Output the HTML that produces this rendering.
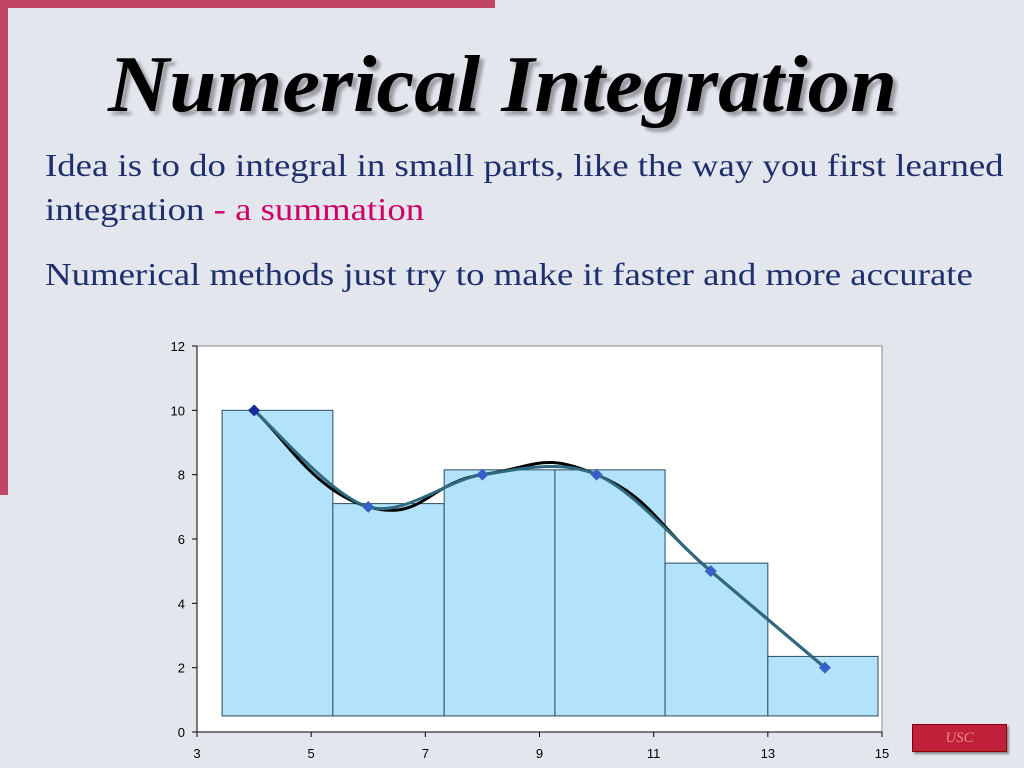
<!DOCTYPE html>
<html><head><meta charset="utf-8"><style>
body{margin:0;width:1024px;height:768px;overflow:hidden;background:#e3e7ed;font-family:"Liberation Serif",serif;position:relative}
.t{position:absolute;color:#1f2f6e;font-size:32px;white-space:nowrap;transform:scaleX(1.15);transform-origin:0 0}
</style></head><body>
<div style="position:absolute;left:0;top:0;width:495px;height:8px;background:#c04565"></div>
<div style="position:absolute;left:0;top:0;width:8px;height:495px;background:#c04565"></div>
<div style="position:absolute;left:108px;top:40px;font-size:80px;font-weight:bold;font-style:italic;color:#000;text-shadow:4px 4px 3px #9a9aa0;white-space:nowrap;transform:scaleX(1.06);transform-origin:0 0">Numerical Integration</div>
<div class="t" style="left:45px;top:147px">Idea is to do integral in small parts, like the way you first learned</div>
<div class="t" style="left:45px;top:191px">integration <span style="color:#cc0066">- a summation</span></div>
<div class="t" style="left:45px;top:256px">Numerical methods just try to make it faster and more accurate</div>
<div style="position:absolute;left:912px;top:724px;width:93px;height:26px;background:#c0203a;border:1px solid #800;box-shadow:2px 2px 2px #888;color:#e88;font-style:italic;font-size:15px;text-align:center;line-height:26px">USC</div>
<svg id="chart" width="1024" height="768" style="position:absolute;left:0;top:0"></svg>
<script>
const xTicks=[3,5,7,9,11,13,15];
const yTicks=[0,2,4,6,8,10,12];
const barEdges=[3.44,5.38,7.33,9.27,11.2,13.0,14.93];
const barHeights=[10,7.1,8.15,8.15,5.25,2.35];
const barBase=0.5;
const ptX=[4,6,8,10,12,14];
const ptY=[10,7,8,8,5,2];
const NS="http://www.w3.org/2000/svg";
const svg=document.getElementById('chart');
const X0=197,X1=882,Y0=732,Y1=346;
const sx=v=>X0+(v-3)/12*(X1-X0);
const sy=v=>Y0-v/12*(Y0-Y1);
function el(t,a,p){const e=document.createElementNS(NS,t);for(const k in a)e.setAttribute(k,a[k]);(p||svg).appendChild(e);return e;}
const pa=el('rect',{x:X0,y:Y1,width:X1-X0,height:Y0-Y1,fill:'#fff',stroke:'#888','stroke-width':1});


const ax=el('line',{x1:X0,y1:Y1,x2:X0,y2:Y0,stroke:'#000'});


const axx=el('line',{x1:X0,y1:Y0,x2:X1,y2:Y0,stroke:'#000'});


yTicks.forEach(v=>{el('line',{x1:X0-5,x2:X0,y1:sy(v),y2:sy(v),stroke:'#000'});
const t=el('text',{x:X0-12,y:sy(v)+5,'text-anchor':'end','font-size':13,'font-family':'Liberation Sans'});t.textContent=v;

});
xTicks.forEach(v=>{el('line',{x1:sx(v),x2:sx(v),y1:Y0,y2:Y0+5,stroke:'#000'});
const t=el('text',{x:sx(v),y:Y0+26,'text-anchor':'middle','font-size':13,'font-family':'Liberation Sans'});t.textContent=v;

});
barHeights.forEach((h,i)=>{const r=el('rect',{x:sx(barEdges[i]),y:sy(h),width:sx(barEdges[i+1])-sx(barEdges[i]),height:sy(barBase)-sy(h),fill:'#b3e3fa',stroke:'#2a4a60','stroke-width':1});

});
function curve(t){const P=ptX.map((x,i)=>[sx(x),sy(ptY[i])]);let d=`M${P[0][0]},${P[0][1]}`;
for(let i=0;i<P.length-1;i++){const p0=P[Math.max(0,i-1)],p1=P[i],p2=P[i+1],p3=P[Math.min(P.length-1,i+2)];
d+=` C${p1[0]+(p2[0]-p0[0])*t},${p1[1]+(p2[1]-p0[1])*t} ${p2[0]-(p3[0]-p1[0])*t},${p2[1]-(p3[1]-p1[1])*t} ${p2[0]},${p2[1]}`;}return d;}
const c1=el('path',{d:curve(0.24),fill:'none',stroke:'#000','stroke-width':3});


const c2=el('path',{d:curve(0.16),fill:'none',stroke:'#2f6a80','stroke-width':3});


ptX.forEach((x,i)=>{const cx=sx(x),cy=sy(ptY[i]);const m=el('polygon',{points:`${cx},${cy-6} ${cx+6},${cy} ${cx},${cy+6} ${cx-6},${cy}`,fill:i==0?'#1a2a9a':'#3560c8'});

});
</script>
</body></html>
